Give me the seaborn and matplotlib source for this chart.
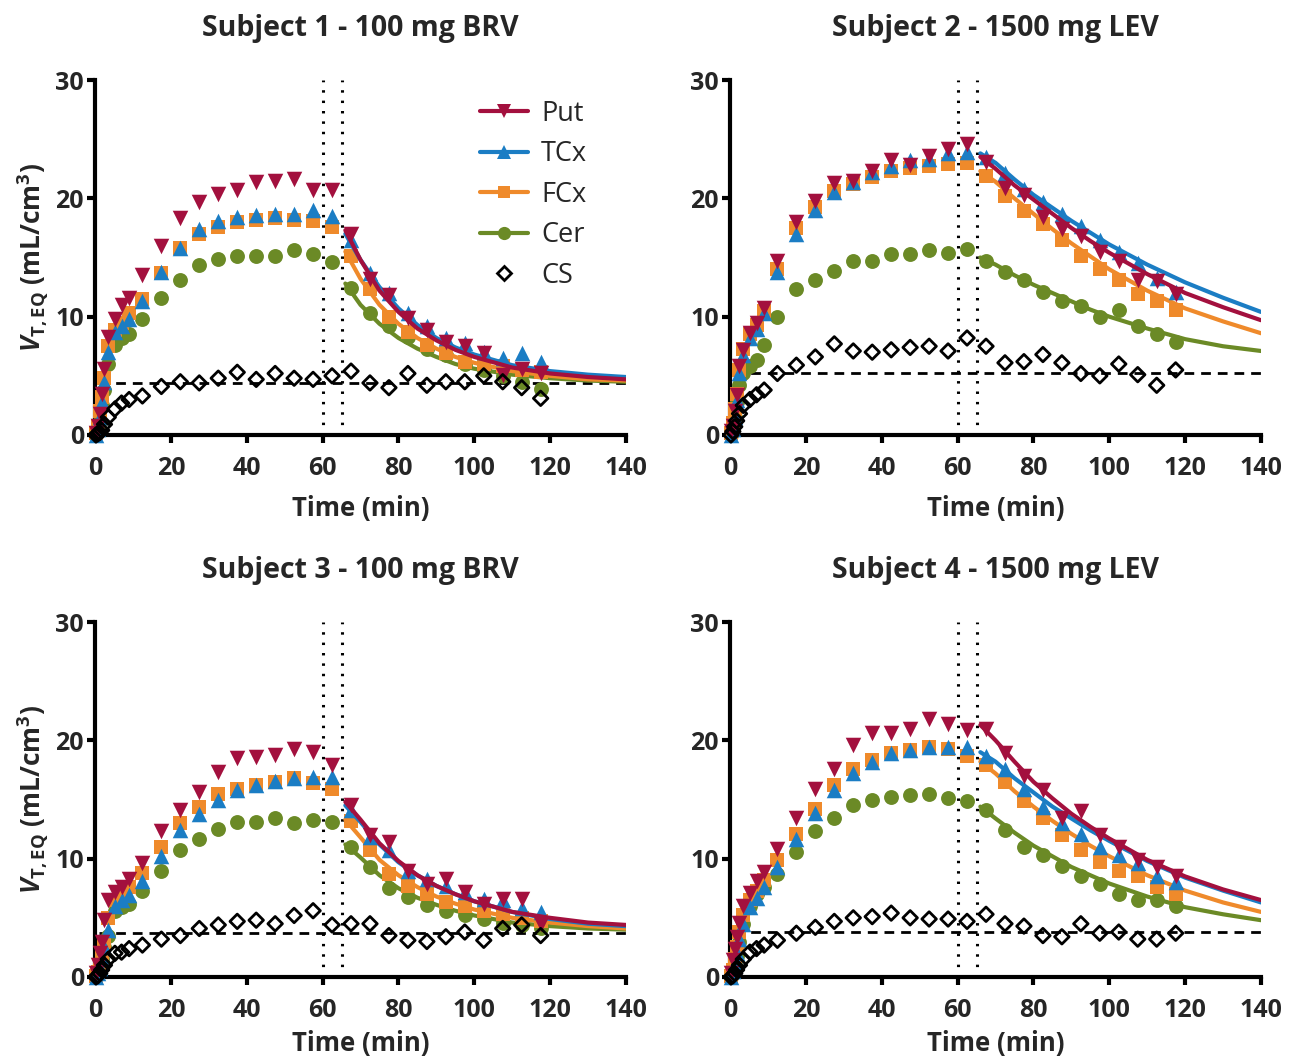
import matplotlib
matplotlib.use("Agg")
import matplotlib.pyplot as plt
from matplotlib.lines import Line2D
import seaborn as sns
import pandas as pd

# ---------------- data ----------------
time = [0.25, 0.75, 1.25, 1.75, 2.5, 3.5, 5.25, 7, 9, 12.5, 17.5, 22.5, 27.5, 32.5,
        37.5, 42.5, 47.5, 52.5, 57.5, 62.5,
        67.5, 72.5, 77.5, 82.5, 87.5, 92.5, 97.5, 102.5, 107.5, 112.5, 117.5]
fit_time = [66, 70, 75, 80, 85, 90, 95, 100, 110, 120, 130, 140]

titles = ["Subject 1 - 100 mg BRV", "Subject 2 - 1500 mg LEV",
          "Subject 3 - 100 mg BRV", "Subject 4 - 1500 mg LEV"]
regions = ["Put", "TCx", "FCx", "Cer"]

s1_put = [0.2, 0.8, 1.8, 3.5, 5.6, 8.3, 9.8, 11.0, 11.6, 13.5, 16.0, 18.3, 19.7, 20.4, 20.7, 21.4, 21.5, 21.6, 20.7, 20.7,
          17.0, 13.2, 11.8, 9.9, 8.9, 7.9, 7.5, 6.9, 5.1, 5.6, 5.2]
s1_tcx = [0.0, 0.5, 1.5, 2.8, 4.5, 7.0, 8.7, 9.2, 9.8, 11.3, 13.8, 15.8, 17.4, 18.1, 18.4, 18.6, 18.7, 18.7, 19.0, 18.5,
          16.5, 13.7, 12.0, 10.3, 9.2, 8.2, 7.8, 7.0, 6.5, 6.9, 6.2]
s1_fcx = [0.2, 0.8, 2.0, 3.2, 4.8, 7.5, 8.9, 9.5, 10.3, 11.5, 13.7, 15.8, 17.0, 17.6, 18.0, 18.2, 18.3, 18.2, 18.1, 17.6,
          15.1, 12.3, 10.0, 8.7, 7.6, 6.9, 6.2, 6.0, 5.8, 5.5, 5.3]
s1_cer = [0.0, 0.5, 1.2, 2.5, 3.8, 6.0, 7.6, 8.2, 8.5, 9.8, 11.6, 13.1, 14.4, 14.9, 15.1, 15.1, 15.1, 15.6, 15.3, 14.6,
          12.4, 10.3, 9.2, 8.3, 7.3, 6.8, 6.0, 5.5, 5.0, 4.5, 3.9]
s1_cs = [0.0, 0.1, 0.2, 0.4, 0.9, 1.5, 2.2, 2.7, 3.0, 3.3, 4.1, 4.5, 4.4, 4.8, 5.3, 4.7, 5.2, 4.8, 4.7, 5.0,
         5.4, 4.4, 4.0, 5.2, 4.2, 4.5, 4.5, 5.0, 4.5, 4.0, 3.1]
s1_fit_put = [17.3, 14.8, 12.2, 10.4, 9.0, 8.0, 7.2, 6.6, 5.7, 5.2, 4.9, 4.7]
s1_fit_tcx = [17.0, 14.8, 12.5, 10.7, 9.3, 8.2, 7.4, 6.8, 5.9, 5.4, 5.1, 4.9]
s1_fit_fcx = [15.5, 13.2, 11.0, 9.4, 8.2, 7.3, 6.6, 6.1, 5.4, 5.0, 4.7, 4.6]
s1_fit_cer = [12.8, 11.0, 9.4, 8.2, 7.3, 6.6, 6.0, 5.6, 5.1, 4.8, 4.6, 4.5]

s2_put = [0.3, 0.8, 2.0, 3.4, 5.8, 7.2, 8.6, 9.5, 10.7, 14.7, 18.0, 19.8, 21.3, 21.5, 22.3, 23.2, 22.8, 23.6, 24.2, 24.6,
          23.1, 20.9, 20.3, 18.4, 17.4, 16.8, 15.5, 14.7, 13.1, 13.0, 11.9]
s2_tcx = [0.0, 0.5, 1.5, 3.0, 5.2, 6.8, 8.2, 9.0, 10.3, 13.8, 17.0, 19.0, 20.5, 21.4, 22.2, 22.7, 23.2, 23.3, 23.8, 23.9,
          23.5, 22.1, 20.8, 19.7, 18.7, 17.7, 16.5, 15.5, 14.5, 13.3, 12.1]
s2_fcx = [0.2, 1.0, 2.2, 3.5, 5.5, 7.3, 8.5, 9.3, 10.5, 14.0, 17.5, 19.3, 20.6, 21.2, 21.8, 22.3, 22.6, 22.7, 22.9, 23.0,
          21.9, 20.2, 18.9, 17.8, 16.5, 15.1, 14.0, 13.1, 11.9, 11.3, 10.6]
s2_cer = [0.0, 0.5, 1.5, 2.8, 4.2, 5.2, 5.8, 6.3, 7.6, 10.0, 12.3, 13.1, 13.9, 14.7, 14.7, 15.3, 15.3, 15.6, 15.4, 15.7,
          14.7, 13.8, 13.1, 12.1, 11.3, 10.9, 10.0, 10.6, 9.2, 8.5, 7.9]
s2_cs = [0.0, 0.3, 0.7, 1.2, 1.8, 2.5, 3.0, 3.4, 3.8, 5.2, 5.9, 6.6, 7.7, 7.1, 7.0, 7.2, 7.4, 7.5, 7.1, 8.2,
         7.5, 6.1, 6.2, 6.8, 6.1, 5.2, 5.0, 6.0, 5.1, 4.2, 5.5]
s2_fit_put = [23.5, 22.5, 21.1, 19.9, 18.7, 17.5, 16.4, 15.4, 13.6, 12.0, 10.8, 9.7]
s2_fit_tcx = [23.8, 23.0, 21.6, 20.3, 19.2, 18.1, 17.1, 16.1, 14.4, 12.9, 11.6, 10.4]
s2_fit_fcx = [22.3, 21.4, 20.0, 18.7, 17.4, 16.2, 15.1, 14.0, 12.2, 10.7, 9.6, 8.6]
s2_fit_cer = [15.0, 14.4, 13.5, 12.7, 12.0, 11.3, 10.6, 10.0, 9.0, 8.1, 7.5, 7.1]

s3_put = [0.3, 1.0, 2.0, 3.0, 4.8, 6.5, 7.2, 7.6, 8.3, 9.6, 12.3, 14.1, 15.6, 17.3, 18.5, 18.6, 18.8, 19.3, 19.0, 17.9,
          14.5, 12.0, 11.4, 9.0, 7.9, 8.3, 7.2, 6.2, 6.6, 6.6, 4.5]
s3_tcx = [0.0, 0.3, 0.8, 1.5, 2.5, 4.0, 6.0, 6.5, 6.9, 8.1, 10.2, 12.4, 13.8, 15.0, 15.8, 16.2, 16.6, 16.8, 16.9, 16.9,
          14.1, 11.8, 10.7, 9.0, 8.3, 7.7, 7.2, 6.6, 6.5, 5.8, 5.5]
s3_fcx = [0.1, 0.4, 1.0, 2.0, 3.0, 5.0, 6.5, 7.2, 7.6, 8.8, 11.0, 13.0, 14.4, 15.5, 15.9, 16.2, 16.5, 16.8, 16.4, 15.9,
          13.2, 10.7, 8.7, 7.7, 7.0, 6.3, 6.0, 5.6, 5.3, 5.0, 4.7]
s3_cer = [0.0, 0.3, 0.8, 1.5, 2.5, 3.5, 5.6, 5.9, 6.2, 7.3, 9.0, 10.7, 11.7, 12.5, 13.1, 13.1, 13.4, 13.0, 13.3, 13.1,
          11.0, 9.3, 7.5, 6.8, 6.1, 5.6, 5.2, 4.9, 4.6, 4.4, 4.1]
s3_cs = [0.0, 0.1, 0.3, 0.6, 1.0, 1.5, 2.0, 2.1, 2.4, 2.7, 3.2, 3.5, 4.1, 4.4, 4.7, 4.8, 4.5, 5.2, 5.6, 4.4,
         4.5, 4.5, 3.5, 3.1, 3.0, 3.4, 3.8, 3.1, 4.1, 4.4, 3.5]
s3_fit_put = [14.8, 13.3, 11.3, 9.8, 8.6, 7.7, 7.0, 6.4, 5.5, 5.0, 4.6, 4.4]
s3_fit_tcx = [14.5, 13.1, 11.2, 9.7, 8.6, 7.7, 7.0, 6.4, 5.5, 4.9, 4.5, 4.3]
s3_fit_fcx = [13.3, 11.8, 9.9, 8.6, 7.6, 6.8, 6.2, 5.7, 5.0, 4.6, 4.3, 4.1]
s3_fit_cer = [11.2, 10.1, 8.6, 7.5, 6.7, 6.1, 5.6, 5.2, 4.6, 4.3, 4.1, 4.0]

s4_put = [0.3, 1.4, 2.4, 3.4, 4.6, 6.0, 7.1, 8.1, 8.9, 10.8, 13.4, 15.9, 17.6, 19.6, 20.6, 20.6, 21.0, 21.8, 21.4, 20.9,
          21.0, 18.9, 17.0, 15.8, 13.4, 14.0, 12.0, 11.0, 9.9, 9.3, 8.5]
s4_tcx = [0.0, 0.5, 1.2, 2.0, 3.2, 4.5, 5.9, 6.7, 7.6, 9.3, 11.7, 13.9, 15.8, 17.2, 18.2, 18.9, 19.2, 19.4, 19.4, 19.4,
          18.7, 17.6, 15.9, 14.4, 13.0, 12.1, 11.0, 10.3, 9.6, 8.5, 8.0]
s4_fcx = [0.1, 0.6, 1.5, 2.5, 3.8, 5.2, 6.5, 7.3, 8.2, 9.9, 12.1, 14.2, 16.2, 17.6, 18.3, 18.9, 19.2, 19.4, 19.3, 18.7,
          17.9, 16.5, 14.9, 13.4, 12.0, 10.7, 9.7, 9.0, 8.5, 7.6, 7.0]
s4_cer = [0.0, 0.4, 1.0, 1.8, 3.0, 4.5, 6.0, 7.0, 7.6, 8.7, 10.6, 12.3, 13.4, 14.5, 15.0, 15.2, 15.4, 15.5, 15.1, 14.9,
          14.1, 12.4, 11.0, 10.3, 9.4, 8.5, 7.9, 7.0, 6.5, 6.5, 6.0]
s4_cs = [0.0, 0.1, 0.3, 0.6, 1.0, 1.5, 2.1, 2.4, 2.7, 3.1, 3.7, 4.2, 4.7, 5.0, 5.1, 5.4, 5.0, 4.9, 4.9, 4.7,
         5.3, 4.5, 4.3, 3.5, 3.4, 4.5, 3.7, 3.8, 3.2, 3.2, 3.7]
s4_fit_put = [21.3, 20.0, 18.2, 16.5, 15.1, 13.8, 12.7, 11.7, 9.9, 8.5, 7.4, 6.5]
s4_fit_tcx = [19.0, 18.2, 16.8, 15.6, 14.4, 13.4, 12.4, 11.5, 9.8, 8.4, 7.3, 6.3]
s4_fit_fcx = [18.2, 17.2, 15.7, 14.4, 13.2, 12.1, 11.1, 10.2, 8.6, 7.3, 6.3, 5.5]
s4_fit_cer = [14.4, 13.4, 12.2, 11.1, 10.2, 9.3, 8.6, 7.9, 6.8, 5.9, 5.3, 4.8]

cs_level = [4.4, 5.2, 3.7, 3.8]
cs_line_x = [1, 140]
vlines = [60, 65]

subjects = [
    dict(Put=s1_put, TCx=s1_tcx, FCx=s1_fcx, Cer=s1_cer, CS=s1_cs,
         fit=dict(Put=s1_fit_put, TCx=s1_fit_tcx, FCx=s1_fit_fcx, Cer=s1_fit_cer)),
    dict(Put=s2_put, TCx=s2_tcx, FCx=s2_fcx, Cer=s2_cer, CS=s2_cs,
         fit=dict(Put=s2_fit_put, TCx=s2_fit_tcx, FCx=s2_fit_fcx, Cer=s2_fit_cer)),
    dict(Put=s3_put, TCx=s3_tcx, FCx=s3_fcx, Cer=s3_cer, CS=s3_cs,
         fit=dict(Put=s3_fit_put, TCx=s3_fit_tcx, FCx=s3_fit_fcx, Cer=s3_fit_cer)),
    dict(Put=s4_put, TCx=s4_tcx, FCx=s4_fcx, Cer=s4_cer, CS=s4_cs,
         fit=dict(Put=s4_fit_put, TCx=s4_fit_tcx, FCx=s4_fit_fcx, Cer=s4_fit_cer)),
]

# ---------------- style ----------------
sns.set_style("white")
FONT = "Open Sans"
plt.rcParams["font.family"] = [FONT, "DejaVu Sans"]
plt.rcParams["mathtext.fontset"] = "custom"
plt.rcParams["mathtext.rm"] = FONT + ":bold"
plt.rcParams["mathtext.bf"] = FONT + ":bold"
plt.rcParams["mathtext.it"] = FONT + ":italic:bold"

colors = {"Put": "#A3103E", "TCx": "#1B7DC4", "FCx": "#EF8A2B", "Cer": "#6B8A26"}
markers = {"Put": "v", "TCx": "^", "FCx": "s", "Cer": "o"}
msizes = {"Put": 125, "TCx": 125, "FCx": 100, "Cer": 115}
draw_order = ["Cer", "FCx", "TCx", "Put"]

fig = plt.figure(figsize=(12.91, 10.61), dpi=100)
W, H = 1291, 1061
boxes = [(95, 80, 626, 435), (730, 80, 1261, 435), (95, 622, 626, 977), (730, 622, 1261, 977)]

for i, (box, subj) in enumerate(zip(boxes, subjects)):
    l, t, r, b = box
    ax = fig.add_axes([l / W, 1 - b / H, (r - l) / W, (b - t) / H])

    for v in vlines:
        ax.axvline(v, color="black", lw=2.2, ls=(0, (0.8, 2.6)), zorder=1)

    ax.plot(cs_line_x, [cs_level[i]] * 2, color="black", lw=2.0, ls=(0, (3.5, 2.5)), zorder=2)

    for k, reg in enumerate(draw_order):
        fit_df = pd.DataFrame({"t": fit_time, "v": subj["fit"][reg]})
        sns.lineplot(data=fit_df, x="t", y="v", color=colors[reg], lw=3.0, ax=ax,
                     zorder=3 + k, sort=False)
        df = pd.DataFrame({"t": time, "v": subj[reg]})
        sns.scatterplot(data=df, x="t", y="v", marker=markers[reg], color=colors[reg],
                        s=msizes[reg], linewidth=0, ax=ax, zorder=3 + k, clip_on=False)

    cs_df = pd.DataFrame({"t": time, "v": subj["CS"]})
    sns.scatterplot(data=cs_df, x="t", y="v", marker="D", color="black", facecolor="none",
                    edgecolor="black", s=55, linewidth=2.0, ax=ax, zorder=10, clip_on=False)

    ax.set_xlim(0, 140)
    ax.set_ylim(0, 30)
    ax.set_xticks([0, 20, 40, 60, 80, 100, 120, 140])
    ax.set_yticks([0, 10, 20, 30])
    for side in ["top", "right"]:
        ax.spines[side].set_visible(False)
    for side in ["left", "bottom"]:
        ax.spines[side].set_linewidth(3.0)
        ax.spines[side].set_color("black")
    ax.tick_params(axis="both", which="major", direction="out", length=6, width=3.0,
                   color="black", labelsize=18, left=True, bottom=True)
    ax.tick_params(axis="x", pad=9)
    ax.tick_params(axis="y", pad=2)
    for lab in ax.get_xticklabels() + ax.get_yticklabels():
        lab.set_fontweight("bold")
    ax.set_xlabel("Time (min)", fontsize=18.5, fontweight="bold",
                  labelpad=10 if i < 2 else 5)
    if i in (0, 2):
        ax.set_ylabel(r"$V_{\mathrm{T,EQ}}$ (mL/cm$^{\mathrm{3}}$)", fontsize=19,
                      fontweight="bold", labelpad=4)
    else:
        ax.set_ylabel("")
    ax.set_title(titles[i], fontsize=20.5, fontweight="bold", pad=32)

    if i == 0:
        handles = [Line2D([0], [0], color=colors[reg], lw=3.0, marker=markers[reg],
                          markersize=9.5 if reg != "FCx" else 9, markeredgewidth=0)
                   for reg in regions]
        handles.append(Line2D([0], [0], color="black", lw=0, marker="D", markersize=7,
                              markerfacecolor="none", markeredgewidth=2.0))
        ax.legend(handles, regions + ["CS"], loc="upper left", bbox_to_anchor=(0.705, 0.975),
                  frameon=False, fontsize=19.5, handlelength=1.75, handletextpad=0.5,
                  labelspacing=0.46, borderaxespad=0)

fig.savefig("out.png", dpi=100)
